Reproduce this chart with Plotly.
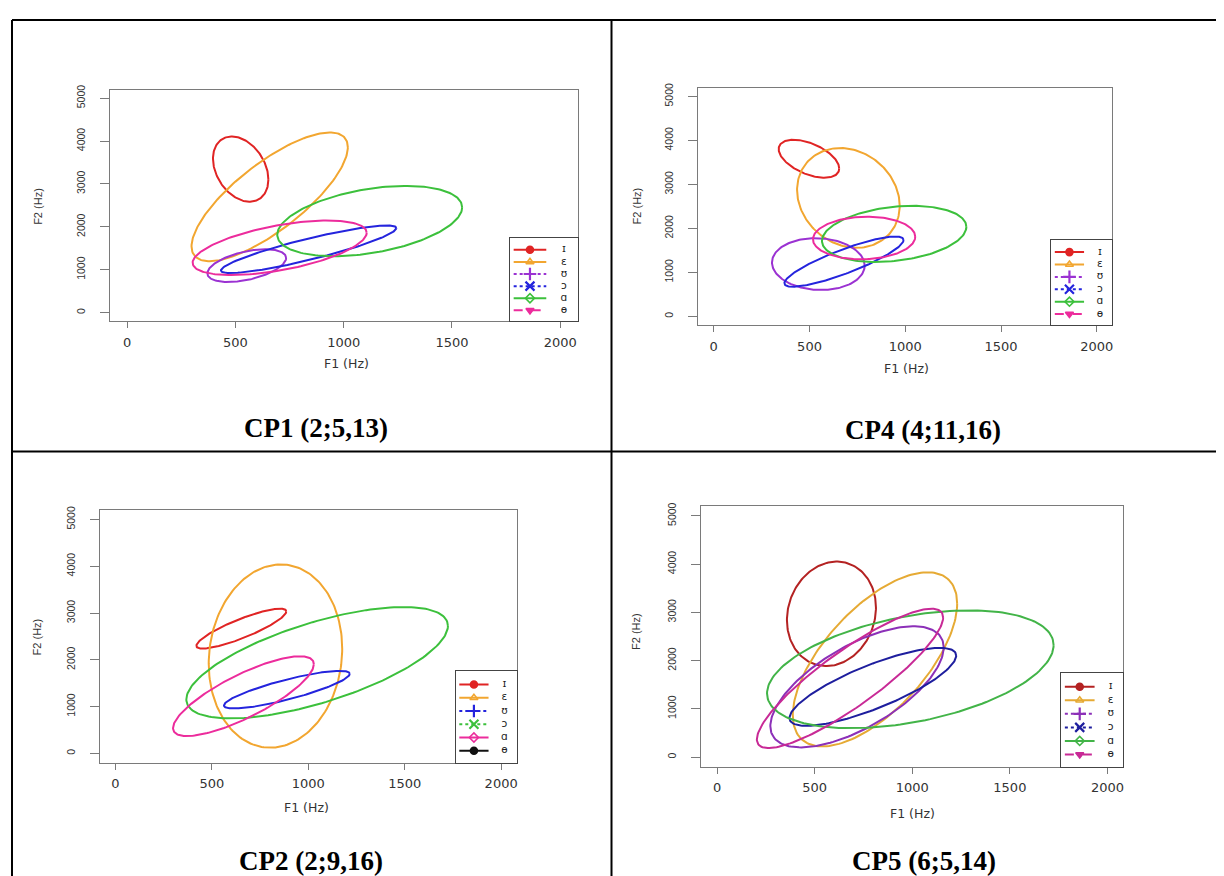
import numpy as np
import plotly.graph_objects as go

W, H = 1224, 876
OFF = 8  # page body margin of the browser

vowels = ["ɪ", "ɛ", "ʊ", "ɔ", "ɑ", "ɵ"]
f1_ticks = [0, 500, 1000, 1500, 2000]
f2_ticks = [0, 1000, 2000, 3000, 4000, 5000]

# Ellipse parameters per panel (order follows the legend):
# centre F1, centre F2, half-width in F1, half-height in F2, correlation
cp1_f1 = [524, 658, 552, 838, 1120, 704]
cp1_f2 = [3346, 2700, 1096, 1477, 2135, 1512]
cp1_rx = [128, 361, 182, 405, 427, 402]
cp1_ry = [760, 1500, 381, 554, 819, 635]
cp1_rho = [-0.32, 0.77, 0.47, 0.89, 0.39, 0.55]

cp4_f1 = [497, 703, 546, 680, 942, 785]
cp4_f2 = [3582, 2693, 1189, 1245, 1875, 1782]
cp4_rx = [158, 268, 242, 311, 377, 267]
cp4_ry = [432, 1133, 589, 570, 638, 484]
cp4_rho = [-0.51, -0.16, -0.06, 0.86, 0.25, 0.06]

cp2_f1 = [653, 830, 889, 1046, 664, None]
cp2_f2 = [2667, 2080, 1362, 1938, 1223, None]
cp2_rx = [233, 346, 326, 678, 365, None]
cp2_ry = [427, 1959, 402, 1191, 853, None]
cp2_rho = [0.86, 0.08, 0.84, 0.66, 0.80, None]

cp5_f1 = [586, 809, 717, 798, 990, 681]
cp5_f2 = [2968, 2025, 1455, 1455, 1819, 1630]
cp5_rx = [228, 421, 444, 427, 734, 477]
cp5_ry = [1083, 1805, 1255, 808, 1221, 1444]
cp5_rho = [0.12, 0.64, 0.65, 0.80, 0.41, 0.875]

col_a = ["#E02424", "#F2A630", "#9B32D2", "#2424DD", "#3CC03C", "#EC2C9C"]
col_b = ["#E02424", "#F2A630", "#2424DD", "#3CC03C", "#EC2C9C", "#111111"]
col_c = ["#B42222", "#E6AA34", "#8C30B8", "#1E1E9E", "#42B448", "#C82A96"]

dash_a = ["solid", "solid", "dot", "dot", "solid", "dash"]
dash_b = ["solid", "solid", "dot", "dot", "solid", "solid"]
sym_a = ["circle", "triangle-up-open", "cross-thin", "x-thin", "diamond-open", "triangle-down"]
sym_b = ["circle", "triangle-up-open", "cross-thin", "x-thin", "diamond-open", "circle"]

panels = [
    dict(cap="CP1 (2;5,13)", f1=cp1_f1, f2=cp1_f2, rx=cp1_rx, ry=cp1_ry, rho=cp1_rho,
         col=col_a, dash=dash_a, sym=sym_a,
         box=(110, 578, 85, 318), leg=(510, 578, 234, 318),
         capxy=(316, 425), t1=(347, 361), t2=(38, 202)),
    dict(cap="CP4 (4;11,16)", f1=cp4_f1, f2=cp4_f2, rx=cp4_rx, ry=cp4_ry, rho=cp4_rho,
         col=col_a, dash=dash_a, sym=sym_a,
         box=(699, 1113, 83, 322), leg=(1052, 1113, 236, 322),
         capxy=(924, 427), t1=(907, 366), t2=(637, 202)),
    dict(cap="CP2 (2;9,16)", f1=cp2_f1, f2=cp2_f2, rx=cp2_rx, ry=cp2_ry, rho=cp2_rho,
         col=col_b, dash=dash_b, sym=sym_b,
         box=(100, 517, 508, 762), leg=(456, 517, 670, 762),
         capxy=(311, 861), t1=(307, 807), t2=(37, 635)),
    dict(cap="CP5 (6;5,14)", f1=cp5_f1, f2=cp5_f2, rx=cp5_rx, ry=cp5_ry, rho=cp5_rho,
         col=col_c, dash=dash_a, sym=sym_a,
         box=(702, 1124, 504, 766), leg=(1062, 1124, 672, 766),
         capxy=(925, 861), t1=(913, 813), t2=(637, 630)),
]


def PX(x):
    return (x - OFF) / W


def PY(y):
    return 1 - (y - OFF) / H


fig = go.Figure()
annotations = []
shapes = []
layout_axes = {}

t = np.linspace(0, 2 * np.pi, 181)
GRAY = "#7a7a7a"
TXT = "#333333"

for i, p in enumerate(panels, start=1):
    xn = "x" if i == 1 else f"x{i}"
    yn = "y" if i == 1 else f"y{i}"
    li = i + 4
    lxn, lyn = f"x{li}", f"y{li}"
    l, r, tp, b = p["box"]
    layout_axes["xaxis" if i == 1 else f"xaxis{i}"] = dict(
        domain=[PX(l), PX(r)], anchor=yn, range=[-80, 2080],
        tickvals=f1_ticks, ticktext=[str(v) for v in f1_ticks],
        showline=True, mirror=True, linecolor=GRAY, linewidth=1,
        ticks="outside", ticklen=6, tickcolor=GRAY, tickwidth=1,
        showgrid=False, zeroline=False, ticklabelstandoff=3,
        tickfont=dict(family="DejaVu Sans", size=13, color=TXT))
    layout_axes["yaxis" if i == 1 else f"yaxis{i}"] = dict(
        domain=[PY(b), PY(tp)], anchor=xn, range=[-200, 5200],
        tickvals=f2_ticks, ticktext=[str(v) for v in f2_ticks], tickangle=-90,
        showline=True, mirror=True, linecolor=GRAY, linewidth=1,
        ticks="outside", ticklen=9, tickcolor=GRAY, tickwidth=1,
        showgrid=False, zeroline=False, ticklabelstandoff=11,
        tickfont=dict(family="Liberation Sans", size=10.5, color=TXT))

    # ellipses
    for j in range(len(vowels)):
        if p["f1"][j] is None:
            continue
        cx, cy, rx, ry, rho = p["f1"][j], p["f2"][j], p["rx"][j], p["ry"][j], p["rho"][j]
        ex = cx + rx * np.cos(t)
        ey = cy + ry * (rho * np.cos(t) + np.sqrt(1 - rho ** 2) * np.sin(t))
        fig.add_trace(go.Scatter(x=ex, y=ey, mode="lines", xaxis=xn, yaxis=yn,
                                 line=dict(color=p["col"][j], width=2),
                                 showlegend=False, hoverinfo="skip"))

    # legend panel drawn with its own small axes
    ll, lr, lt, lb = p["leg"]
    layout_axes[f"xaxis{li}"] = dict(domain=[PX(ll), PX(lr)], anchor=lyn, range=[0, 1],
                                     showline=True, mirror=True, linecolor="#444", linewidth=1,
                                     showticklabels=False, ticks="", showgrid=False, zeroline=False)
    layout_axes[f"yaxis{li}"] = dict(domain=[PY(lb), PY(lt)], anchor=lxn, range=[5.9, -1],
                                     showline=True, mirror=True, linecolor="#444", linewidth=1,
                                     showticklabels=False, ticks="", showgrid=False, zeroline=False)
    rows = list(range(len(vowels)))
    for j, v in enumerate(vowels):
        c = p["col"][j]
        fig.add_trace(go.Scatter(x=[0.06, 0.54], y=[j, j], mode="lines", xaxis=lxn, yaxis=lyn,
                                 line=dict(color=c, width=2, dash=p["dash"][j]),
                                 showlegend=False, hoverinfo="skip"))
        s = p["sym"][j]
        mk = dict(symbol=s, size=7, color=c, line=dict(color=c, width=1.6))
        if s in ("cross-thin", "x-thin"):
            mk["size"] = 9
            mk["line"]["width"] = 2.2
        fig.add_trace(go.Scatter(x=[0.30], y=[j], mode="markers", xaxis=lxn, yaxis=lyn,
                                 marker=mk, showlegend=False, hoverinfo="skip"))
    fig.add_trace(go.Scatter(x=[0.80] * len(vowels), y=rows, mode="text", text=vowels,
                             textposition="middle center", xaxis=lxn, yaxis=lyn,
                             textfont=dict(family="DejaVu Sans", size=10.5, color="#222"),
                             showlegend=False, hoverinfo="skip"))

    # axis titles
    annotations.append(dict(x=PX(p["t1"][0]), y=PY(p["t1"][1]), xref="paper", yref="paper",
                            text="F1 (Hz)", showarrow=False, xanchor="center", yanchor="middle",
                            font=dict(family="DejaVu Sans", size=12.5, color=TXT)))
    annotations.append(dict(x=PX(p["t2"][0]), y=PY(p["t2"][1]), xref="paper", yref="paper",
                            text="F2 (Hz)", showarrow=False, xanchor="center", yanchor="middle",
                            textangle=-90,
                            font=dict(family="Liberation Sans", size=11, color=TXT)))
    # caption
    annotations.append(dict(x=PX(p["capxy"][0]), y=PY(p["capxy"][1]), xref="paper", yref="paper",
                            text="<b>" + p["cap"] + "</b>", showarrow=False,
                            xanchor="center", yanchor="middle",
                            font=dict(family="Liberation Serif", size=27, color="black")))

# table rules
for (x0, y0, x1, y1) in [(12, 15, 1240, 15), (12, 15, 12, 890), (612, 15, 612, 890), (12, 449, 1240, 449)]:
    shapes.append(dict(type="line", xref="paper", yref="paper",
                       x0=PX(x0), y0=PY(y0), x1=PX(x1), y1=PY(y1),
                       line=dict(color="black", width=2)))

fig.update_layout(width=W, height=H, margin=dict(l=0, r=0, t=0, b=0),
                  paper_bgcolor="white", plot_bgcolor="white",
                  annotations=annotations, shapes=shapes, showlegend=False,
                  **layout_axes)

fig.write_html("out.html")
